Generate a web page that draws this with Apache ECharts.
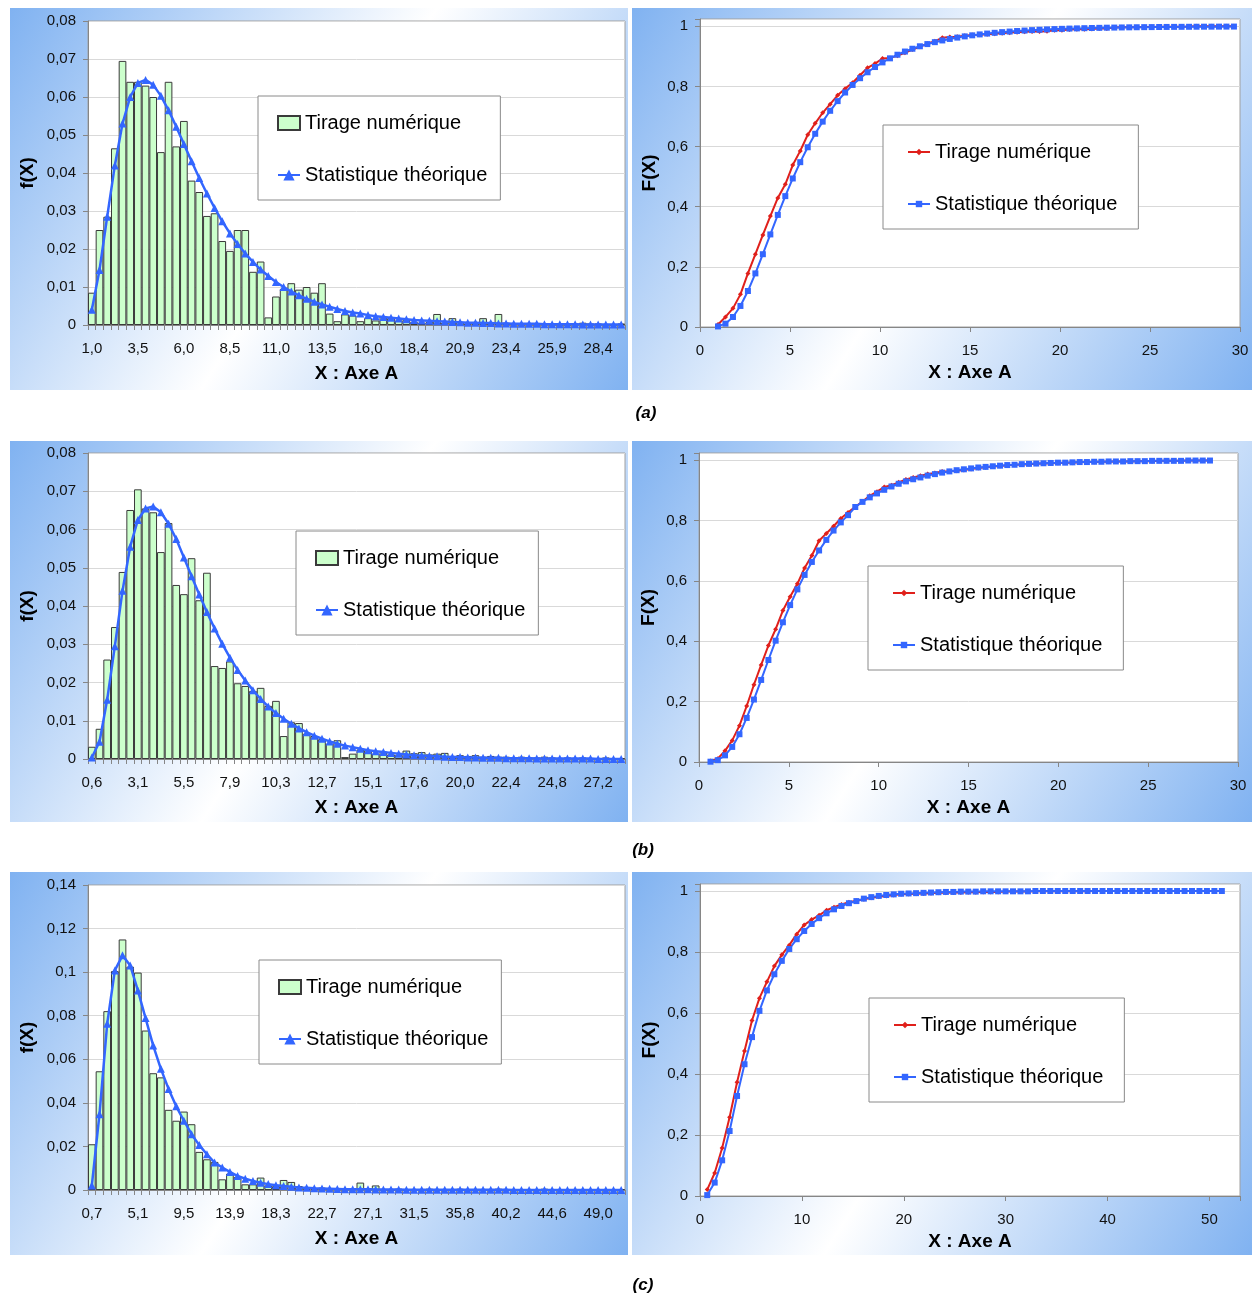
<!DOCTYPE html>
<html><head><meta charset="utf-8">
<script src="https://cdn.jsdelivr.net/npm/echarts@6/dist/echarts.min.js"></script>
<style>html,body{margin:0;padding:0;background:#fff}#c{width:1255px;height:1294px}</style>
</head><body><div id="c"></div>
<script>
// ---------- DATA ----------
const catsA = [1.000,1.415,1.831,2.246,2.662,3.077,3.492,3.908,4.323,4.739,5.154,5.569,5.985,6.400,6.816,7.231,7.646,8.062,8.477,8.893,9.308,9.723,10.139,10.554,10.970,11.385,11.800,12.216,12.631,13.047,13.462,13.877,14.293,14.708,15.124,15.539,15.954,16.370,16.785,17.201,17.616,18.031,18.447,18.862,19.278,19.693,20.108,20.524,20.939,21.355,21.770,22.185,22.601,23.016,23.432,23.847,24.262,24.678,25.093,25.509,25.924,26.339,26.755,27.170,27.586,28.001,28.416,28.832,29.247,29.663];
const histA = [0.0085,0.025,0.0285,0.0465,0.0695,0.064,0.064,0.063,0.060,0.0455,0.064,0.047,0.0537,0.038,0.035,0.0287,0.0294,0.0221,0.0195,0.025,0.025,0.014,0.0167,0.002,0.0075,0.0095,0.011,0.0093,0.010,0.0085,0.011,0.003,0.001,0.0028,0.0025,0.001,0.0018,0.0012,0.0022,0.0018,0.0012,0.0014,0.0008,0.0006,0.0008,0.0029,0.0006,0.0018,0.0008,0.0004,0.0006,0.0018,0.0004,0.0029,0.0006,0.0004,0.0002,0.0004,0.0002,0.0004,0.0002,0.0002,0.0002,0.0004,0.0006,0.0004,0.0004,0.0002,0.0002,0.0004];
const theoA = [0.0040,0.0145,0.0285,0.0420,0.0530,0.0600,0.0637,0.0645,0.0632,0.0603,0.0565,0.0522,0.0476,0.0431,0.0387,0.0346,0.0308,0.0273,0.0241,0.0213,0.0188,0.0166,0.0146,0.0129,0.0113,0.0100,0.0088,0.0078,0.0069,0.0061,0.0054,0.0048,0.0042,0.0037,0.0033,0.0030,0.0026,0.0023,0.0021,0.0019,0.0017,0.0015,0.0013,0.0012,0.0011,0.0010,0.0009,0.0008,0.0007,0.0006,0.0006,0.0005,0.0005,0.0004,0.0004,0.0003,0.0003,0.0003,0.0003,0.0002,0.0002,0.0002,0.0002,0.0002,0.0001,0.0001,0.0001,0.0001,0.0001,0.0001];
const redA = [0.0085,0.0335,0.062,0.1085,0.178,0.242,0.306,0.369,0.429,0.4745,0.5385,0.5855,0.6392,0.6772,0.7122,0.7409,0.7703,0.7924,0.8119,0.8369,0.8619,0.8759,0.8926,0.8946,0.9021,0.9116,0.9226,0.9319,0.9419,0.9504,0.9614,0.9644,0.9654,0.9682,0.9707,0.9717,0.9735,0.9747,0.9769,0.9787,0.9799,0.9813,0.9821,0.9827,0.9835,0.9864,0.987,0.9888,0.9896,0.99,0.9906,0.9924,0.9928,0.9957,0.9963,0.9967,0.9969,0.9973,0.9975,0.9979,0.9981,0.9983,0.9985,0.9989,0.9995,0.9999,1,1,1,1];
const blueA = [0.0019,0.0111,0.0333,0.0700,0.1196,0.1782,0.2420,0.3078,0.3727,0.4351,0.4938,0.548,0.5976,0.6424,0.6828,0.7188,0.751,0.7796,0.8048,0.8272,0.8469,0.8643,0.8797,0.8932,0.9052,0.9158,0.9251,0.9333,0.9406,0.947,0.9527,0.9577,0.9622,0.9662,0.9697,0.9728,0.9756,0.9781,0.9803,0.9822,0.984,0.9856,0.987,0.9882,0.9894,0.9904,0.9913,0.9921,0.9928,0.9935,0.9941,0.9946,0.9951,0.9955,0.9959,0.9963,0.9966,0.9969,0.9971,0.9974,0.9976,0.9978,0.998,0.9981,0.9983,0.9984,0.9985,0.9986,0.9987,0.9988];

const catsB = [0.640,1.043,1.446,1.849,2.252,2.655,3.057,3.460,3.863,4.266,4.669,5.072,5.475,5.878,6.281,6.684,7.086,7.489,7.892,8.295,8.698,9.101,9.504,9.907,10.310,10.713,11.115,11.518,11.921,12.324,12.727,13.130,13.533,13.936,14.339,14.742,15.144,15.547,15.950,16.353,16.756,17.159,17.562,17.965,18.368,18.771,19.173,19.576,19.979,20.382,20.785,21.188,21.591,21.994,22.397,22.800,23.202,23.605,24.008,24.411,24.814,25.217,25.620,26.023,26.426,26.829,27.231,27.634,28.037,28.440];
const histB = [0.0032,0.0079,0.026,0.0345,0.0489,0.0651,0.0705,0.0655,0.0645,0.0541,0.0617,0.0455,0.0431,0.0525,0.0415,0.0487,0.0243,0.0238,0.0255,0.0198,0.0191,0.0178,0.0186,0.0139,0.0152,0.006,0.0096,0.0094,0.0066,0.006,0.0052,0.004,0.0049,0.0005,0.0014,0.0025,0.0023,0.0014,0.0019,0.0012,0.001,0.0022,0.0015,0.0018,0.0012,0.0014,0.0016,0.0008,0.001,0.0008,0.001,0.0006,0.0008,0.0006,0.0006,0.0004,0.0006,0.0004,0.0004,0.0006,0.0004,0.0002,0.0004,0.0002,0.0004,0.0002,0.0002,0.0004,0.0002,0.0002];
const theoB = [0.0004,0.0045,0.0155,0.0295,0.0440,0.0555,0.0625,0.0655,0.0660,0.0645,0.0615,0.0575,0.0527,0.0478,0.0430,0.0384,0.0341,0.0301,0.0265,0.0233,0.0205,0.0180,0.0157,0.0137,0.0120,0.0105,0.0092,0.0080,0.0070,0.0061,0.0053,0.0046,0.0040,0.0035,0.0031,0.0027,0.0023,0.0020,0.0018,0.0016,0.0014,0.0012,0.0010,0.0009,0.0008,0.0007,0.0006,0.0005,0.0005,0.0004,0.0004,0.0003,0.0003,0.0003,0.0002,0.0002,0.0002,0.0002,0.0001,0.0001,0.0001,0.0001,0.0001,0.0001,0.0001,0.0001,0.0000,0.0000,0.0000,0.0000];
const redB = [0.0032,0.0111,0.0371,0.0716,0.1205,0.1856,0.2561,0.3216,0.3861,0.4402,0.5019,0.5474,0.5905,0.643,0.6845,0.7332,0.7575,0.7813,0.8068,0.8266,0.8457,0.8635,0.8821,0.896,0.9112,0.9172,0.9268,0.9362,0.9428,0.9488,0.954,0.958,0.9629,0.9634,0.9648,0.9673,0.971,0.974,0.977,0.979,0.981,0.983,0.985,0.986,0.987,0.988,0.989,0.99,0.991,0.992,0.992,0.993,0.994,0.994,0.995,0.995,0.996,0.996,0.996,0.997,0.997,0.997,0.998,0.998,0.998,0.998,0.999,0.999,0.999,0.999];
const blueB = [0.001,0.006,0.022,0.050,0.092,0.146,0.207,0.272,0.338,0.402,0.463,0.52,0.572,0.62,0.663,0.701,0.736,0.767,0.794,0.818,0.845,0.862,0.877,0.890,0.902,0.913,0.922,0.930,0.937,0.943,0.949,0.954,0.959,0.963,0.967,0.970,0.973,0.976,0.978,0.980,0.982,0.984,0.985,0.987,0.988,0.989,0.990,0.991,0.992,0.992,0.993,0.994,0.994,0.995,0.995,0.996,0.996,0.996,0.997,0.997,0.997,0.998,0.998,0.998,0.998,0.998,0.999,0.999,0.999,0.999];

const catsC = [0.710,1.442,2.174,2.906,3.638,4.370,5.102,5.834,6.566,7.298,8.030,8.762,9.494,10.226,10.958,11.690,12.422,13.154,13.886,14.618,15.350,16.082,16.814,17.546,18.278,19.010,19.742,20.474,21.206,21.938,22.670,23.402,24.134,24.866,25.598,26.330,27.062,27.794,28.526,29.258,29.990,30.722,31.454,32.186,32.918,33.650,34.382,35.114,35.846,36.578,37.310,38.042,38.774,39.506,40.238,40.970,41.702,42.434,43.166,43.898,44.630,45.362,46.094,46.826,47.558,48.290,49.022,49.754,50.486,51.218];
const histC = [0.021,0.0545,0.0821,0.1005,0.115,0.1025,0.0998,0.0732,0.0536,0.0517,0.0368,0.0318,0.036,0.0302,0.0175,0.0141,0.0129,0.0049,0.0075,0.006,0.0026,0.0026,0.0057,0.0021,0.0018,0.0046,0.0037,0.0018,0.0011,0.0008,0.0011,0.0004,0.0006,0.0004,0.0008,0.0034,0.0008,0.0021,0.0004,0.0002,0.0006,0.0002,0.0004,0.0004,0.0006,0.0002,0.0004,0.0002,0.0006,0.0004,0.0002,0.0004,0.0004,0.0006,0.0002,0.0004,0.0004,0.0002,0.0004,0.0006,0.0002,0.0004,0.0004,0.0002,0.0004,0.0002,0.0004,0.0002,0.0002,0.0004];
const theoC = [0.0021,0.0348,0.0763,0.1008,0.1077,0.1031,0.0916,0.0789,0.0663,0.0556,0.0464,0.0384,0.0318,0.0256,0.0206,0.0164,0.0126,0.0103,0.0083,0.0064,0.0052,0.0041,0.0033,0.0027,0.0022,0.0018,0.0015,0.0012,0.0010,0.0008,0.0007,0.0006,0.0005,0.0004,0.0004,0.0003,0.0003,0.0002,0.0002,0.0002,0.0002,0.0001,0.0001,0.0001,0.0001,0.0001,0.0001,0.0001,0.0001,0.0001,0.0001,0.0001,0.0001,0.0001,0.0001,0.0000,0.0000,0.0000,0.0000,0.0000,0.0000,0.0000,0.0000,0.0000,0.0000,0.0000,0.0000,0.0000,0.0000,0.0000];
const redC = [0.021,0.0755,0.1576,0.2581,0.3731,0.4756,0.5754,0.6486,0.7022,0.7539,0.7907,0.8225,0.8585,0.8887,0.9062,0.9203,0.937,0.947,0.956,0.963,0.968,0.973,0.978,0.981,0.984,0.987,0.989,0.990,0.991,0.992,0.993,0.994,0.994,0.995,0.995,0.996,0.996,0.997,0.997,0.997,0.998,0.998,0.998,0.998,0.999,0.999,0.999,0.999,0.999,0.999,0.999,0.999,1,1,1,1,1,1,1,1,1,1,1,1,1,1,1,1,1,1];
const blueC = [0.003,0.044,0.117,0.213,0.328,0.432,0.521,0.607,0.674,0.727,0.771,0.81,0.842,0.869,0.892,0.911,0.927,0.94,0.951,0.96,0.967,0.975,0.98,0.984,0.987,0.989,0.991,0.992,0.993,0.994,0.995,0.996,0.997,0.997,0.998,0.998,0.998,0.999,0.999,0.999,0.999,0.999,0.999,0.999,1,1,1,1,1,1,1,1,1,1,1,1,1,1,1,1,1,1,1,1,1,1,1,1,1,1];

const pdfMax = [0.08, 0.08, 0.14];
const pdfStep = [0.01, 0.01, 0.02];
const cdfXMax = [30, 30, 53];
const cdfXStep = [5, 5, 10];
const captions = ['(a)', '(b)', '(c)'];
const seriesNames = ['Tirage numérique', 'Statistique théorique'];

// ---------- LAYOUT ----------
const FONT = '"Liberation Sans", Arial, sans-serif';
const L = {
  bgY: [8, 441, 872], bgH: [382, 381, 383],
  lTop: [21, 453, 885], lH: [304, 306, 305],
  rTop: [19, 453, 884], rH: [308, 309, 312], rLeft: [700, 699, 700], rW: [540, 539, 540],
  rMax: [1.024, 1.024, 1.023],
  legL: [[258, 96], [296, 531], [259, 960]],
  legR: [[883, 125], [868, 566], [869, 998]],
  cap: [[646, 413], [643, 850], [643, 1285]]
};
const datasets = [
  {cats: catsA, hist: histA, theo: theoA, red: redA, blue: blueA},
  {cats: catsB, hist: histB, theo: theoB, red: redB, blue: blueB},
  {cats: catsC, hist: histC, theo: theoC, red: redC, blue: blueC}
];
const fmtNum = v => { const r = +(+v).toFixed(4); return r === 0 ? '0' : String(r).replace('.', ','); };

const grid = [], xAxis = [], yAxis = [], series = [], legend = [], graphic = [];
const axisCol = '#868686';
const blueGrad = {type: 'linear', x: 0, y: 0, x2: 1, y2: 1, colorStops: [
  {offset: 0, color: '#80b2f1'}, {offset: 0.5, color: '#ffffff'}, {offset: 1, color: '#80b2f1'}]};

for (let r = 0; r < 3; r++) {
  const d = datasets[r];
  graphic.push({type: 'rect', z: -10, shape: {x: 10, y: L.bgY[r], width: 618, height: L.bgH[r]}, style: {fill: blueGrad}});
  graphic.push({type: 'rect', z: -10, shape: {x: 632, y: L.bgY[r], width: 620, height: L.bgH[r]}, style: {fill: blueGrad}});
  graphic.push({type: 'text', z: 10, x: L.cap[r][0], y: L.cap[r][1], style: {text: captions[r], font: 'italic bold 17px "Liberation Sans"', fill: '#000', align: 'center', verticalAlign: 'middle'}});

  const gl = 2 * r, gr = 2 * r + 1;
  grid.push({left: 88, top: L.lTop[r], width: 537, height: L.lH[r], show: true, backgroundColor: '#fff', borderColor: '#a0a0a0', borderWidth: 1, containLabel: false});
  grid.push({left: L.rLeft[r], top: L.rTop[r], width: L.rW[r], height: L.rH[r], show: true, backgroundColor: '#fff', borderColor: '#a0a0a0', borderWidth: 1, containLabel: false});

  xAxis.push({type: 'category', gridIndex: gl, data: d.cats.map(String), boundaryGap: true,
    axisLine: {show: true, lineStyle: {color: axisCol}},
    axisTick: {show: true, interval: 0, length: 5, lineStyle: {color: axisCol}},
    axisLabel: {interval: 5, margin: 16, fontSize: 15, fontFamily: FONT, color: '#111', formatter: v => (+v).toFixed(1).replace('.', ',')},
    splitLine: {show: false},
    name: 'X : Axe A', nameLocation: 'middle', nameGap: 39,
    nameTextStyle: {fontSize: 19, fontWeight: 'bold', fontFamily: FONT, color: '#000'}});
  yAxis.push({type: 'value', gridIndex: gl, min: 0, max: pdfMax[r], interval: pdfStep[r],
    axisLine: {show: true, lineStyle: {color: axisCol}},
    axisTick: {show: true, length: 5, lineStyle: {color: axisCol}},
    axisLabel: {margin: 12, fontSize: 15, fontFamily: FONT, color: '#111', formatter: fmtNum},
    splitLine: {show: true, lineStyle: {color: '#d9d9d9', width: 1}},
    name: 'f(X)', nameLocation: 'middle', nameGap: 51,
    nameTextStyle: {fontSize: 19, fontWeight: 'bold', fontFamily: FONT, color: '#000'}});

  xAxis.push({type: 'value', gridIndex: gr, min: 0, max: cdfXMax[r], interval: cdfXStep[r],
    axisLine: {show: true, onZero: false, lineStyle: {color: axisCol}},
    axisTick: {show: true, length: 5, lineStyle: {color: axisCol}},
    axisLabel: {margin: 16, fontSize: 15, fontFamily: FONT, color: '#111', showMaxLabel: true,
      formatter: v => (Math.abs(v / cdfXStep[r] - Math.round(v / cdfXStep[r])) < 1e-6 ? String(v) : '')},
    splitLine: {show: false},
    name: 'X : Axe A', nameLocation: 'middle', nameGap: 36,
    nameTextStyle: {fontSize: 19, fontWeight: 'bold', fontFamily: FONT, color: '#000'}});
  yAxis.push({type: 'value', gridIndex: gr, min: 0, max: L.rMax[r], interval: 0.2,
    axisLine: {show: true, onZero: false, lineStyle: {color: axisCol}},
    axisTick: {show: true, length: 5, lineStyle: {color: axisCol}},
    axisLabel: {margin: 12, fontSize: 15, fontFamily: FONT, color: '#111', formatter: v => (v > 1.001 ? '' : fmtNum(v))},
    splitLine: {show: true, lineStyle: {color: '#d9d9d9', width: 1}},
    name: 'F(X)', nameLocation: 'middle', nameGap: 41,
    nameTextStyle: {fontSize: 19, fontWeight: 'bold', fontFamily: FONT, color: '#000'}});

  const nHist = seriesNames[0] + '#L' + r, nTheo = seriesNames[1] + '#L' + r;
  const nRed = seriesNames[0] + '#R' + r, nBlue = seriesNames[1] + '#R' + r;
  series.push({type: 'bar', name: nHist, xAxisIndex: gl, yAxisIndex: gl, data: d.hist,
    barCategoryGap: '0%', barGap: '0%',
    itemStyle: {color: '#ccffcc', borderColor: '#3a3a3a', borderWidth: 1}});
  series.push({type: 'line', name: nTheo, xAxisIndex: gl, yAxisIndex: gl, data: d.theo,
    symbol: 'triangle', symbolSize: 8, showAllSymbol: true,
    lineStyle: {color: '#3366ff', width: 2.5}, itemStyle: {color: '#3366ff'}});
  series.push({type: 'line', name: nRed, xAxisIndex: gr, yAxisIndex: gr,
    data: d.cats.map((x, i) => [x, d.red[i]]),
    symbol: 'diamond', symbolSize: 5, showAllSymbol: true,
    lineStyle: {color: '#e0201b', width: 2}, itemStyle: {color: '#e0201b'}});
  series.push({type: 'line', name: nBlue, xAxisIndex: gr, yAxisIndex: gr,
    data: d.cats.map((x, i) => [x, d.blue[i]]),
    symbol: 'rect', symbolSize: 6, showAllSymbol: true,
    lineStyle: {color: '#3366ff', width: 2}, itemStyle: {color: '#3366ff'}});

  const legCommon = {orient: 'vertical', selectedMode: false, backgroundColor: '#fff',
    borderColor: '#8a8a8a', borderWidth: 1, itemWidth: 22, itemGap: 32, itemTextGap: 5,
    textStyle: {fontSize: 20, fontFamily: FONT, color: '#000', lineHeight: 20},
    formatter: n => n.split('#')[0]};
  legend.push(Object.assign({}, legCommon, {left: L.legL[r][0], top: L.legL[r][1], padding: [17, 13, 15, 19], itemHeight: 14,
    data: [{name: nHist, icon: 'rect'}, {name: nTheo}]}));
  legend.push(Object.assign({}, legCommon, {left: L.legR[r][0], top: L.legR[r][1], padding: [17, 21, 15, 24], itemHeight: 8,
    data: [{name: nRed}, {name: nBlue}]}));
}

const chart = echarts.init(document.getElementById('c'), null, {renderer: 'canvas'});
chart.setOption({animation: false, backgroundColor: '#fff', grid, xAxis, yAxis, series, legend, graphic: {elements: graphic}});
</script>
</body></html>
